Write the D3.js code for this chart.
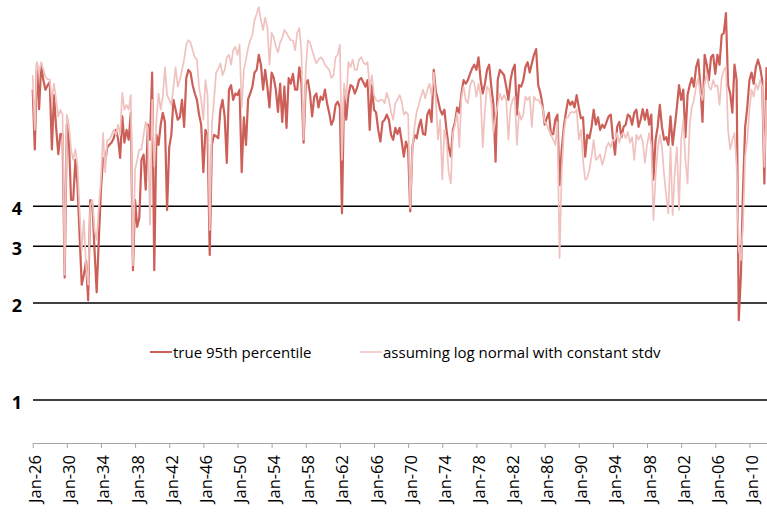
<!DOCTYPE html>
<html>
<head>
<meta charset="utf-8">
<script src="https://cdn.jsdelivr.net/npm/d3@7"></script>
<style>
    body{margin:0;background:#fff}
    text{font-family:"Open Sans",sans-serif}
</style>
</head>
<body>
<div id="chart"></div>
<script>
// quarterly values, Jan 1926 onwards
const truePct = [
    9.2, 6.0, 11.1, 8.0,    11.0, 9.85, 9.2, 9.5,    9.7, 6.0, 8.85, 7.0,    5.8, 6.7, 6.7, 2.4,
    7.16, 6.43, 4.18, 4.18, 5.57, 4.65, 3.25, 2.28,  2.45, 2.7, 2.04, 4.18,  4.03, 2.92, 2.16, 3.14,
    4.5, 5.65, 5.5, 6.1,    6.2, 6.3, 6.5, 6.9,      6.5, 5.65, 7.6, 6.3,    6.9, 6.43, 7.8, 2.53,
    4.18, 3.45, 3.68, 5.57, 5.78, 4.5, 7.16, 6.43,   10.4, 2.53, 6.66, 6.2,  7.16, 7.8, 7.3, 3.89,
    6.1, 6.66, 8.55, 7.97,  7.42, 7.55, 8.55, 7.05,  10.0, 10.6, 10.4, 9.5,  8.95, 8.55, 7.7, 7.16,
    5.1, 6.9, 6.66, 2.82,   6.2, 6.66, 6.6, 6.5,     7.97, 8.55, 7.6, 5.45,  9.2, 9.5, 8.55, 8.95,
    8.85, 9.2, 5.1, 7.55,   6.2, 8.6, 8.95, 9.4,     10.4, 10.6, 11.8, 11.0, 9.2, 10.6, 9.4, 8.1,
    10.4, 10.0, 9.2, 7.85,  9.6, 7.3, 9.4, 7.0,      10.0, 9.6, 10.3, 9.2,   9.2, 10.8, 9.6, 6.3,
    9.6, 9.85, 8.95, 7.6,   8.75, 8.95, 8.1, 8.75,   8.55, 9.2, 8.35, 7.8,   7.16, 7.42, 8.25, 8.45,
    8.1, 3.8, 9.2, 7.42,    8.85, 9.5, 9.4, 8.95,    9.3, 9.85, 10.0, 9.7,   9.4, 9.85, 6.9, 9.5,
    7.97, 7.8, 6.9, 6.35,   7.3, 7.42, 7.7, 7.42,    6.66, 6.43, 7.0, 6.7,   7.0, 6.35, 5.7, 6.35,
    6.0, 3.85, 6.1, 6.66,   6.5, 7.05, 7.42, 6.7,    6.66, 7.7, 7.97, 7.3,   10.6, 9.1, 8.55, 7.97,
    7.7, 7.97, 6.9, 6.1,    5.7, 6.9, 7.3, 8.1,      7.8, 8.95, 9.85, 9.6,   9.85, 10.3, 10.7, 11.0,
    10.6, 11.6, 9.85, 8.95, 9.6, 10.6, 11.0, 9.4,    8.25, 5.5, 9.85, 10.6,  10.4, 10.2, 9.4, 8.55,
    9.85, 10.6, 11.0, 7.7,  9.5, 9.4, 9.85, 10.8,    11.2, 10.4, 11.1, 11.8, 12.3, 9.5, 9.0, 8.25,
    7.16, 7.5, 7.8, 6.66,   6.7, 7.42, 7.7, 4.65,    6.0, 7.05, 7.85, 8.55,  8.25, 8.45, 8.1, 8.85,
    8.1, 7.5, 7.55, 5.7,    6.66, 6.5, 7.05, 7.97,   7.16, 7.55, 6.9, 7.16,  7.0, 7.3, 7.6, 7.7,
    6.5, 5.78, 7.05, 7.3,   6.55, 7.05, 7.16, 7.7,   7.6, 7.16, 7.8, 7.97,   7.05, 7.42, 8.0, 7.42,
    7.97, 7.16, 7.7, 4.83,  6.43, 7.05, 8.25, 7.05,  6.43, 6.55, 6.2, 7.6,   6.2, 7.05, 8.1, 9.5,
    8.55, 9.2, 6.55, 8.85,  9.5, 10.0, 9.4, 10.8,    11.4, 9.5, 7.3, 11.8,   11.0, 9.85, 11.6, 11.8,
    10.3, 11.8, 11.0, 13.6, 13.8, 15.9, 9.5, 8.95,   7.8, 11.0, 9.85, 1.77,  2.45, 4.5, 7.05, 8.1,
    9.85, 10.4, 9.6, 10.8,  11.4, 10.8, 9.85, 4.7,   10.8
]
const logNormal = [
    10.2, 6.9, 11.2, 10.4,  11.2, 10.6, 10.1, 9.9,   9.9, 8.55, 9.6, 8.55,   7.6, 7.97, 7.7, 2.45,
    7.7, 7.16, 6.0, 5.57,   6.0, 5.38, 3.89, 2.92,   3.62, 2.62, 2.28, 4.03, 4.18, 3.37, 3.14, 3.97,
    4.83, 6.75, 5.1, 6.43,  6.43, 6.66, 6.9, 6.66,   7.16, 6.66, 9.0, 7.97,  8.25, 7.97, 8.85, 2.62,
    5.2, 5.57, 6.0, 6.0,    6.66, 7.3, 7.0, 3.5,     8.55, 5.3, 7.42, 8.95,  7.97, 8.75, 10.8, 8.85,
    8.55, 8.25, 9.35, 10.8, 9.4, 9.85, 10.6, 11.4,   12.7, 13.1, 12.9, 12.2, 11.6, 11.4, 9.35, 8.55,
    7.42, 9.85, 8.85, 3.37, 7.16, 8.55, 10.4, 10.7,  11.1, 10.2, 10.6, 11.6, 11.8, 11.0, 12.2, 12.5,
    11.8, 12.7, 8.1, 10.6,  11.4, 12.4, 13.1, 13.6,  15.1, 15.8, 16.6, 15.1, 14.1, 15.4, 14.4, 11.0,
    13.8, 13.4, 12.5, 12.0, 12.9, 13.3, 14.1, 13.8,  13.4, 13.1, 13.1, 12.2, 13.8, 14.3, 12.0, 6.43,
    10.6, 13.1, 12.9, 12.2, 11.6, 11.1, 11.4, 11.6,  11.4, 11.0, 10.8, 10.6, 10.0, 10.2, 11.6, 11.8,
    12.7, 5.57, 9.6, 8.55,  11.2, 10.8, 11.4, 10.6,  10.6, 11.4, 11.6, 11.2, 11.0, 11.2, 9.2, 10.2,
    8.85, 8.55, 8.45, 8.55, 8.55, 8.35, 9.0, 8.55,   7.85, 7.42, 8.35, 8.55, 8.85, 8.45, 7.7, 7.85,
    7.7, 3.95, 6.0, 7.05,   7.85, 8.25, 8.75, 9.2,   8.65, 9.2, 9.6, 8.85,   10.4, 8.55, 6.43, 7.42,
    4.83, 6.9, 6.43, 5.1,   4.7, 6.75, 7.16, 7.8,    6.1, 8.75, 9.4, 8.55,   8.35, 9.4, 9.85, 9.7,
    8.75, 9.6, 8.85, 6.1,   7.97, 9.4, 9.2, 8.35,    6.75, 7.6, 8.25, 8.95,  8.55, 8.85, 8.55, 6.43,
    8.1, 8.55, 8.75, 6.2,   7.85, 7.42, 7.7, 8.75,   8.55, 8.75, 7.05, 8.75, 8.55, 8.55, 8.35, 8.1,
    7.3, 7.16, 6.9, 6.66,   6.43, 6.2, 7.3, 2.76,    5.1, 6.75, 7.5, 7.55,   7.8, 7.85, 7.8, 7.97,
    6.43, 6.9, 5.57, 4.83,  4.9, 5.2, 5.7, 6.43,     5.57, 5.65, 5.8, 5.38,  5.65, 6.1, 6.3, 6.1,
    6.43, 6.43, 6.75, 6.3,  6.66, 6.75, 6.5, 6.8,    6.3, 6.55, 5.57, 6.66,  6.43, 6.66, 6.35, 5.45,
    6.2, 6.75, 6.2, 3.62,   4.95, 6.0, 6.66, 6.1,    5.0, 4.3, 3.8, 6.1,     3.75, 5.1, 6.1, 3.89,
    6.43, 7.42, 5.57, 4.7,  7.16, 8.1, 8.55, 9.4,    10.0, 8.95, 8.55, 9.6,  10.3, 9.4, 9.2, 9.85,
    9.4, 9.5, 8.25, 10.0,   10.6, 10.8, 6.9, 6.0,    6.43, 6.75, 5.3, 2.92,  2.72, 3.5, 5.7, 6.43,
    7.97, 9.2, 8.75, 9.6,   9.2, 9.85, 9.4, 5.3,     8.55
]
const gridValues = [1, 2, 3, 4]
const tickYears = d3.range(1926, 2011, 4)
const seriesNames = ['true 95th percentile', 'assuming log normal with constant stdv']
const seriesColors = ['#cc5f58', '#f0c2bf']

const quarters = truePct.map((d, i) => new Date(1926, i * 3, 1))

const width = 767
const height = 514

const svg = d3.select('#chart')
    .append('svg')
    .attr('width', width)
    .attr('height', height)

// Scales
const xScale = d3.scaleTime()
    .domain([new Date(1926, 0, 1), new Date(2012, 0, 1)])
    .range([32.7, 766.5])

const yScale = d3.scaleLog()
    .domain([1, 10])
    .range([400, 78])

// Gridlines + labels
svg.append('g')
    .selectAll('line')
    .data(gridValues)
    .join('line')
    .attr('x1', 33)
    .attr('x2', width)
    .attr('y1', d => yScale(d))
    .attr('y2', d => yScale(d))
    .attr('stroke', '#000')
    .attr('stroke-width', 1.5)

svg.append('g')
    .selectAll('text')
    .data(gridValues)
    .join('text')
    .text(d => d)
    .attr('x', 22)
    .attr('y', d => yScale(d) + 8.5)
    .attr('text-anchor', 'end')
    .style('font-size', '18px')
    .style('font-weight', 'bold')

// X axis
const xAxis = d3.axisBottom(xScale)
    .tickValues(tickYears.map(y => new Date(y, 0, 1)))
    .tickFormat(d3.timeFormat('%b-%y'))
    .tickSize(5)
    .tickSizeOuter(0)

const xAxisGroup = svg.append('g')
    .attr('transform', 'translate(0, 443)')
    .call(xAxis)

xAxisGroup.select('.domain').attr('stroke', '#a6a6a6')
xAxisGroup.selectAll('.tick line').attr('stroke', '#a6a6a6')
xAxisGroup.selectAll('.tick text')
    .attr('transform', 'rotate(-90)')
    .attr('text-anchor', 'end')
    .attr('x', -12)
    .attr('y', 8)
    .attr('dy', 0)
    .attr('fill', '#000')
    .style('font-family', '"Open Sans", sans-serif')
    .style('font-size', '16.5px')

// Lines
const line = d3.line()
    .x((d, i) => xScale(quarters[i]))
    .y(d => yScale(d))

svg.append('path')
    .datum(truePct)
    .attr('d', line)
    .attr('fill', 'none')
    .attr('stroke', seriesColors[0])
    .attr('stroke-width', 2.2)
    .attr('stroke-linejoin', 'round')

svg.append('path')
    .datum(logNormal)
    .attr('d', line)
    .attr('fill', 'none')
    .attr('stroke', seriesColors[1])
    .attr('stroke-width', 1.7)
    .attr('stroke-linejoin', 'round')

// Legend
const legendX = [150, 360]
const legend = svg.append('g')
    .selectAll('g')
    .data(seriesNames)
    .join('g')
    .attr('transform', (d, i) => `translate(${legendX[i]}, 352)`)

legend.append('line')
    .attr('x1', 0)
    .attr('x2', 22)
    .attr('stroke', (d, i) => seriesColors[i])
    .attr('stroke-width', (d, i) => i ? 1.5 : 2)

legend.append('text')
    .text(d => d)
    .attr('x', 23)
    .attr('y', 6)
    .attr('fill', '#000')
    .style('font-size', '15px')
</script>
</body>
</html>
